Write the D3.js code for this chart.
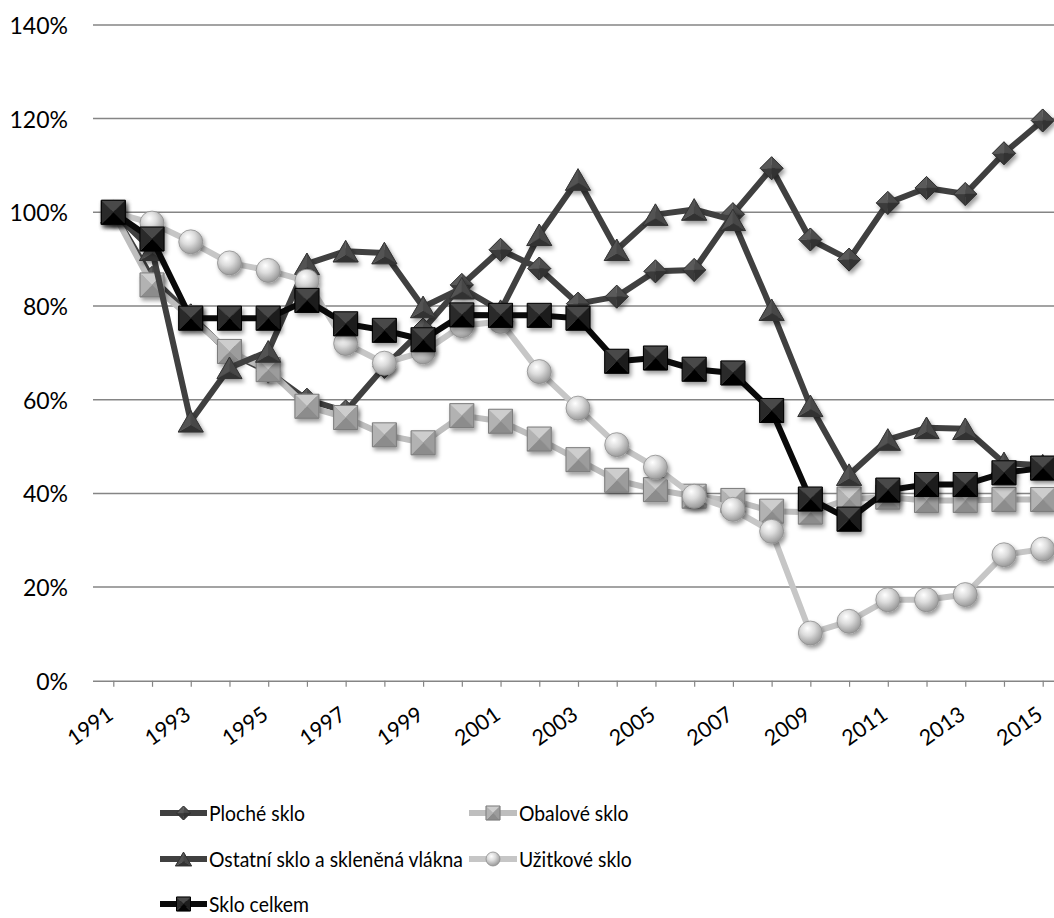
<!DOCTYPE html>
<html>
<head>
<meta charset="utf-8">
<script src="https://cdn.jsdelivr.net/npm/d3@7"></script>
<style>
  body { margin: 0; background: #fff; }
  svg { display: block; }
  text { font-family: Lato, "Open Sans", sans-serif; fill: #000; }
</style>
</head>
<body>
<svg id="chart" width="1054" height="918"></svg>
<script>
// Index of glass production, 1991 = 100 %
const years = [1991, 1992, 1993, 1994, 1995, 1996, 1997, 1998, 1999, 2000, 2001, 2002, 2003,
               2004, 2005, 2006, 2007, 2008, 2009, 2010, 2011, 2012, 2013, 2014, 2015];
const yearLabels = [1991, 1993, 1995, 1997, 1999, 2001, 2003, 2005, 2007, 2009, 2011, 2013, 2015];
const percentTicks = [0, 20, 40, 60, 80, 100, 120, 140];

const plocheSklo = [100, 86, 78, 70, 66, 60, 57.5, 67, 75, 84.5, 92, 88, 80.5,
                    82, 87.4, 87.7, 99.6, 109.4, 94.2, 89.9, 102, 105.2, 103.9, 112.6, 119.6];
const obaloveSklo = [100, 84.5, 77.5, 70.3, 66.4, 58.6, 56.2, 52.5, 50.8, 56.6, 55.4, 51.6, 47.2,
                     42.8, 40.8, 39.4, 38.5, 36.2, 36, 38.8, 39.2, 38.5, 38.5, 38.7, 38.7];
const ostatniSklo = [100, 92, 55.4, 66.8, 70.3, 89, 91.7, 91.3, 79.8, 83.8, 79, 95.2, 107,
                     92, 99.5, 100.6, 98.4, 79.2, 58.7, 44, 51.5, 54, 53.8, 46.5, 46];
const uzitkoveSklo = [100, 97.7, 93.7, 89.2, 87.6, 85.3, 72, 67.8, 70.2, 75.8, 76.7, 66, 58.2,
                      50.4, 45.6, 39.4, 36.6, 31.9, 10.2, 12.7, 17.3, 17.3, 18.4, 26.9, 28.1];
const skloCelkem = [100, 94.3, 77.4, 77.4, 77.4, 81.2, 76.2, 74.8, 72.8, 78.1, 78, 78, 77.4,
                    68.2, 68.9, 66.5, 65.7, 57.7, 38.8, 34.5, 40.7, 41.9, 41.9, 44.4, 45.4];

const seriesNames = ["Ploché sklo", "Obalové sklo", "Ostatní sklo a skleněná vlákna", "Užitkové sklo", "Sklo celkem"];

const series = [
  { name: seriesNames[0], values: plocheSklo,   line: "#404040", marker: "diamond" },
  { name: seriesNames[1], values: obaloveSklo,  line: "#bebebe", marker: "squareGray" },
  { name: seriesNames[2], values: ostatniSklo,  line: "#404040", marker: "triangle" },
  { name: seriesNames[3], values: uzitkoveSklo, line: "#c6c6c6", marker: "circle" },
  { name: seriesNames[4], values: skloCelkem,   line: "#0a0a0a", marker: "squareBlack" }
];

const svg = d3.select("#chart");
const defs = svg.append("defs");

// soft shadow under the markers
const shadow = defs.append("filter").attr("id", "mshadow")
  .attr("x", "-50%").attr("y", "-50%").attr("width", "200%").attr("height", "200%");
shadow.append("feDropShadow").attr("dx", 2).attr("dy", 3).attr("stdDeviation", 2)
  .attr("flood-color", "#000").attr("flood-opacity", 0.4);

// shaded sphere for the circle markers
const sphere = defs.append("radialGradient").attr("id", "sphere")
  .attr("cx", "40%").attr("cy", "35%").attr("r", "65%").attr("fx", "38%").attr("fy", "30%");
sphere.append("stop").attr("offset", "0%").attr("stop-color", "#ffffff");
sphere.append("stop").attr("offset", "45%").attr("stop-color", "#dcdcdc");
sphere.append("stop").attr("offset", "100%").attr("stop-color", "#9a9a9a");

const x = d3.scalePoint().domain(years).range([113.3, 1042.7]);
const y = d3.scaleLinear().domain([0, 140]).range([680.8, 24.9]);

const plotLeft = 93, plotRight = 1054;

// horizontal gridlines
svg.append("g").selectAll("line")
  .data(percentTicks.filter(d => d > 0))
  .join("line")
  .attr("x1", plotLeft).attr("x2", plotRight)
  .attr("y1", d => y(d)).attr("y2", d => y(d))
  .attr("stroke", "#858585").attr("stroke-width", 1.5);

// y axis labels
svg.append("g").selectAll("text")
  .data(percentTicks)
  .join("text")
  .attr("x", 68).attr("y", d => y(d))
  .attr("text-anchor", "end").attr("dominant-baseline", "central")
  .attr("font-size", 23)
  .text(d => d + "%");

// category axis
const xAxis = d3.axisBottom(x).tickSize(6).tickFormat("");
const axisG = svg.append("g").attr("transform", `translate(0,${y(0)})`).call(xAxis);
axisG.select(".domain").attr("d", `M${plotLeft},0.5H${plotRight}`).attr("stroke", "#858585").attr("stroke-width", 1.5);
axisG.selectAll(".tick line").attr("stroke", "#858585").attr("stroke-width", 1.2);

svg.append("g").selectAll("text")
  .data(yearLabels)
  .join("text")
  .attr("text-anchor", "end")
  .attr("font-size", 21.5)
  .attr("transform", d => `translate(${x(d) + 1.5},${y(0) + 37}) rotate(-35)`)
  .text(d => d);

// ---- marker drawing ----
function facets(g, pts, colors, stroke) {
  const n = pts.length;
  let cx = 0, cy = 0;
  pts.forEach(p => { cx += p[0]; cy += p[1]; });
  cx /= n; cy /= n;
  for (let i = 0; i < n; i++) {
    const a = pts[i], b = pts[(i + 1) % n];
    g.append("path")
      .attr("d", `M${a[0]},${a[1]}L${b[0]},${b[1]}L${cx},${cy}Z`)
      .attr("fill", colors[i]).attr("stroke", colors[i]).attr("stroke-width", 0.4);
  }
  g.append("path")
    .attr("d", "M" + pts.map(p => p.join(",")).join("L") + "Z")
    .attr("fill", "none").attr("stroke", stroke).attr("stroke-width", 1);
}

function drawMarker(g, type, s) {
  const h = s / 2;
  if (type === "squareGray") {
    facets(g, [[-h, -h], [h, -h], [h, h], [-h, h]],
      ["#cdcdcd", "#9c9c9c", "#8c8c8c", "#b2b2b2"], "#7c7c7c");
  } else if (type === "squareBlack") {
    facets(g, [[-h, -h], [h, -h], [h, h], [-h, h]],
      ["#4a4a4a", "#1e1e1e", "#050505", "#2a2a2a"], "#000");
  } else if (type === "diamond") {
    facets(g, [[0, -h], [h, 0], [0, h], [-h, 0]],
      ["#4c4c4c", "#333333", "#3a3a3a", "#5a5a5a"], "#2e2e2e");
  } else if (type === "triangle") {
    const th = s * 0.86;
    facets(g, [[0, -th / 2], [h, th / 2], [-h, th / 2]],
      ["#474747", "#333333", "#525252"], "#333");
  } else if (type === "circle") {
    g.append("circle").attr("r", h).attr("fill", "url(#sphere)")
      .attr("stroke", "#8e8e8e").attr("stroke-width", 0.8);
  }
}

const line = d3.line().x((d, i) => x(years[i])).y(d => y(d));

series.forEach(s => {
  const g = svg.append("g");
  g.append("path")
    .attr("d", line(s.values))
    .attr("fill", "none").attr("stroke", s.line)
    .attr("stroke-width", 6).attr("stroke-linejoin", "round").attr("stroke-linecap", "round");
  const markerSize = s.marker === "triangle" ? 25 : (s.marker === "diamond" ? 23 : 24);
  g.selectAll("g.m")
    .data(s.values)
    .join("g").attr("class", "m")
    .attr("filter", "url(#mshadow)")
    .attr("transform", (d, i) => `translate(${x(years[i])},${y(d)})`)
    .each(function () { drawMarker(d3.select(this), s.marker, markerSize); });
});

// ---- legend ----
const legendRows = [813, 859, 904];
const legendCols = [[160, 207], [469, 517]];
const legendSlots = [[0, 0], [1, 0], [0, 1], [1, 1], [0, 2]];

series.forEach((s, i) => {
  const [c, r] = legendSlots[i];
  const [x0, x1] = legendCols[c];
  const ly = legendRows[r];
  const g = svg.append("g");
  g.append("line").attr("x1", x0).attr("x2", x1).attr("y1", ly).attr("y2", ly)
    .attr("stroke", s.line).attr("stroke-width", 6);
  const mg = g.append("g").attr("transform", `translate(${(x0 + x1) / 2},${ly})`);
  drawMarker(mg, s.marker, s.marker === "triangle" ? 16 : 14);
  g.append("text")
    .attr("transform", `translate(${x1 + 2},${ly}) scale(0.9,1)`)
    .attr("dominant-baseline", "central").attr("font-size", 21.5)
    .text(s.name);
});
</script>
</body>
</html>
